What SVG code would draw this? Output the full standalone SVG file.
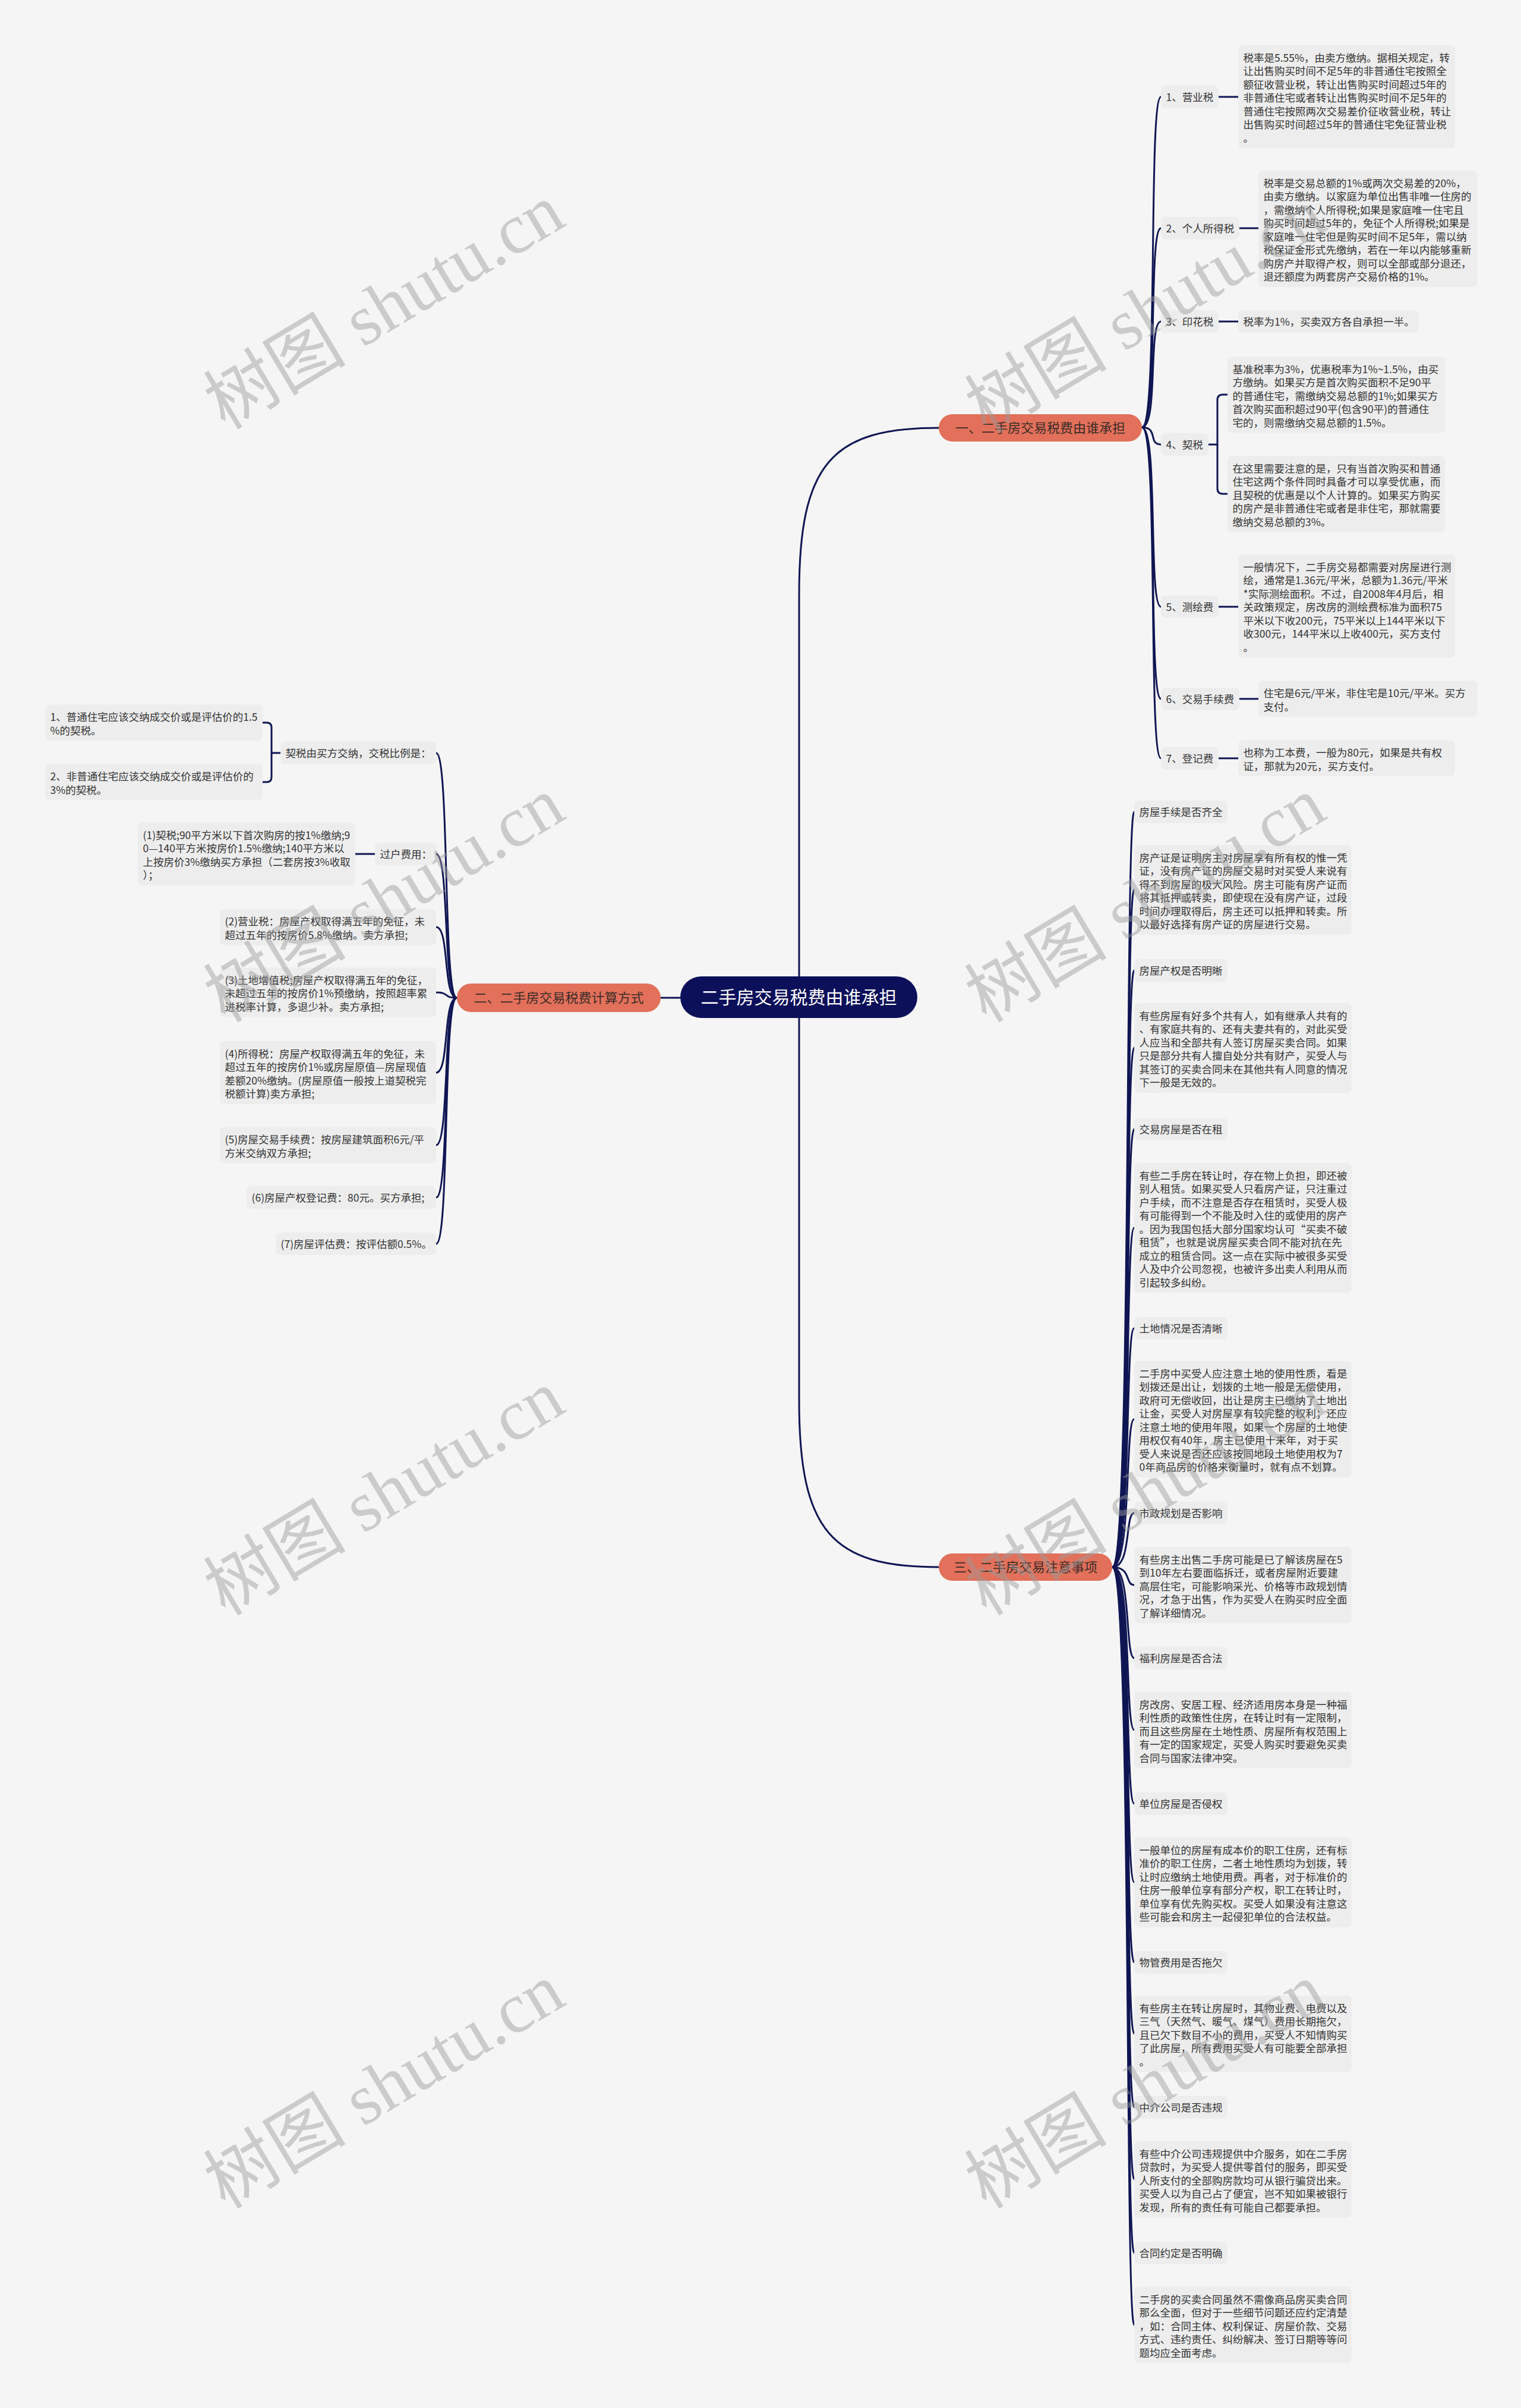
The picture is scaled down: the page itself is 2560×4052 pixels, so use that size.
<svg xmlns="http://www.w3.org/2000/svg" width="2560" height="4052" viewBox="0 0 2560 4052">
<style>
.t{font-family:"Noto Sans CJK SC","Liberation Sans",sans-serif;font-size:17.5px;fill:#333333;}
.bx{fill:#ededed;}
.ln{fill:none;stroke:#0f1653;stroke-width:3;stroke-linecap:round;}
.br{fill:#e2705a;}
.bt{font-family:"Noto Sans CJK SC","Liberation Sans",sans-serif;font-size:22px;fill:#3a2c28;text-anchor:middle;}
.wm{font-size:120px;fill:#9a9a9a;opacity:0.45;text-anchor:middle;}
</style>
<rect x="0" y="0" width="2560" height="4052" fill="#f5f5f5"/>

<g id="connectors">
<path class="ln" d="M1345 1643 L1345 1000 C1345 780 1400 720 1580 720"/>
<path class="ln" d="M1345 1713 L1345 2357 C1345 2577 1400 2637 1580 2637"/>
<path class="ln" d="M1145 1679 L1112 1679"/>
<path class="ln" d="M1922 719 C1950 719 1932 163 1954 163"/>
<path class="ln" d="M1922 719 C1950 719 1932 384 1954 384"/>
<path class="ln" d="M1922 719 C1950 719 1932 541 1954 541"/>
<path class="ln" d="M1922 719 C1950 719 1932 748 1954 748"/>
<path class="ln" d="M1922 719 C1950 719 1932 1021 1954 1021"/>
<path class="ln" d="M1922 719 C1950 719 1932 1176 1954 1176"/>
<path class="ln" d="M1922 719 C1950 719 1932 1276 1954 1276"/>
<path class="ln" d="M2051 163 H2084"/>
<path class="ln" d="M2086 384 H2118"/>
<path class="ln" d="M2051 541 H2084"/>
<path class="ln" d="M2034 748 H2049"/>
<path class="ln" d="M2066 664 H2058 Q2049 664 2049 673 V822 Q2049 831 2058 831 H2066"/>
<path class="ln" d="M2051 1021 H2084"/>
<path class="ln" d="M2086 1176 H2118"/>
<path class="ln" d="M2051 1276 H2084"/>
<path class="ln" d="M769 1679 C745 1679 757 1267 734 1267"/>
<path class="ln" d="M769 1679 C745 1679 757 1437 734 1437"/>
<path class="ln" d="M769 1679 C745 1679 757 1560 734 1560"/>
<path class="ln" d="M769 1679 C745 1679 757 1670 734 1670"/>
<path class="ln" d="M769 1679 C745 1679 757 1805 734 1805"/>
<path class="ln" d="M769 1679 C745 1679 757 1927 734 1927"/>
<path class="ln" d="M769 1679 C745 1679 757 2015 734 2015"/>
<path class="ln" d="M769 1679 C745 1679 757 2093 734 2093"/>
<path class="ln" d="M472 1267 H457"/>
<path class="ln" d="M442 1216 H449 Q457 1216 457 1224 V1308 Q457 1316 449 1316 H442"/>
<path class="ln" d="M631 1437 H598"/>
<path class="ln" d="M1872 2637 C1905 2637 1893 1366 1909 1366"/>
<path class="ln" d="M1872 2637 C1905 2637 1893 1497 1909 1497"/>
<path class="ln" d="M1872 2637 C1905 2637 1893 1633 1909 1633"/>
<path class="ln" d="M1872 2637 C1905 2637 1893 1763 1909 1763"/>
<path class="ln" d="M1872 2637 C1905 2637 1893 1900 1909 1900"/>
<path class="ln" d="M1872 2637 C1905 2637 1893 2066 1909 2066"/>
<path class="ln" d="M1872 2637 C1905 2637 1893 2235 1909 2235"/>
<path class="ln" d="M1872 2637 C1905 2637 1893 2388 1909 2388"/>
<path class="ln" d="M1872 2637 C1905 2637 1893 2546 1909 2546"/>
<path class="ln" d="M1872 2637 C1905 2637 1893 2667 1909 2667"/>
<path class="ln" d="M1872 2637 C1905 2637 1893 2790 1909 2790"/>
<path class="ln" d="M1872 2637 C1905 2637 1893 2911 1909 2911"/>
<path class="ln" d="M1872 2637 C1905 2637 1893 3035 1909 3035"/>
<path class="ln" d="M1872 2637 C1905 2637 1893 3167 1909 3167"/>
<path class="ln" d="M1872 2637 C1905 2637 1893 3302 1909 3302"/>
<path class="ln" d="M1872 2637 C1905 2637 1893 3422 1909 3422"/>
<path class="ln" d="M1872 2637 C1905 2637 1893 3546 1909 3546"/>
<path class="ln" d="M1872 2637 C1905 2637 1893 3667 1909 3667"/>
<path class="ln" d="M1872 2637 C1905 2637 1893 3791 1909 3791"/>
<path class="ln" d="M1872 2637 C1905 2637 1893 3912 1909 3912"/>
</g>

<g id="root">
<rect x="1145" y="1643" width="399" height="70" rx="35" fill="#0c105a"/>
<text x="1344.5" y="1689" font-family="Noto Sans CJK SC, sans-serif" font-size="30" fill="#ffffff" text-anchor="middle">二手房交易税费由谁承担</text>
</g>

<g id="branch1">
<rect class="br" x="1580" y="697" width="342" height="46" rx="23"/>
<text class="bt" x="1751" y="728">一、二手房交易税费由谁承担</text>
</g>
<g id="branch2">
<rect class="br" x="769" y="1655" width="343" height="48" rx="24"/>
<text class="bt" x="940.5" y="1687">二、二手房交易税费计算方式</text>
</g>
<g id="branch3">
<rect class="br" x="1580" y="2614" width="292" height="46" rx="23"/>
<text class="bt" x="1726" y="2645">三、二手房交易注意事项</text>
</g>

<g id="b1-yingyeshui">
<rect class="bx" x="1954" y="144" width="97" height="38" rx="8"/>
<text class="t" x="1962.5" y="169.5">1、营业税</text>
</g>
<g id="b1-yingyeshui-text">
<rect class="bx" x="2084" y="76" width="365" height="173.5" rx="8"/>
<text class="t"><tspan x="2092.5" y="103.5">税率是5.55%，由卖方缴纳。据相关规定，转</tspan><tspan x="2092.5" y="126">让出售购买时间不足5年的非普通住宅按照全</tspan><tspan x="2092.5" y="148.5">额征收营业税，转让出售购买时间超过5年的</tspan><tspan x="2092.5" y="171">非普通住宅或者转让出售购买时间不足5年的</tspan><tspan x="2092.5" y="193.5">普通住宅按照两次交易差价征收营业税，转让</tspan><tspan x="2092.5" y="216">出售购买时间超过5年的普通住宅免征营业税</tspan><tspan x="2092.5" y="238.5">。</tspan></text>
</g>
<g id="b1-geshui">
<rect class="bx" x="1954" y="365" width="132" height="38" rx="8"/>
<text class="t" x="1962.5" y="390.5">2、个人所得税</text>
</g>
<g id="b1-geshui-text">
<rect class="bx" x="2118" y="287" width="368" height="196" rx="8"/>
<text class="t"><tspan x="2126.5" y="314.5">税率是交易总额的1%或两次交易差的20%，</tspan><tspan x="2126.5" y="337">由卖方缴纳。以家庭为单位出售非唯一住房的</tspan><tspan x="2126.5" y="359.5">，需缴纳个人所得税;如果是家庭唯一住宅且</tspan><tspan x="2126.5" y="382">购买时间超过5年的，免征个人所得税;如果是</tspan><tspan x="2126.5" y="404.5">家庭唯一住宅但是购买时间不足5年，需以纳</tspan><tspan x="2126.5" y="427">税保证金形式先缴纳，若在一年以内能够重新</tspan><tspan x="2126.5" y="449.5">购房产并取得产权，则可以全部或部分退还，</tspan><tspan x="2126.5" y="472">退还额度为两套房产交易价格的1%。</tspan></text>
</g>
<g id="b1-yinhua">
<rect class="bx" x="1954" y="522" width="97" height="38" rx="8"/>
<text class="t" x="1962.5" y="547.5">3、印花税</text>
</g>
<g id="b1-yinhua-text">
<rect class="bx" x="2084" y="522" width="304" height="38" rx="8"/>
<text class="t" x="2092.5" y="547.5">税率为1%，买卖双方各自承担一半。</text>
</g>
<g id="b1-qishui">
<rect class="bx" x="1954" y="729" width="80" height="38" rx="8"/>
<text class="t" x="1962.5" y="754.5">4、契税</text>
</g>
<g id="b1-qishui-text1">
<rect class="bx" x="2066" y="600" width="366" height="128.5" rx="8"/>
<text class="t"><tspan x="2074.5" y="627.5">基准税率为3%，优惠税率为1%~1.5%，由买</tspan><tspan x="2074.5" y="650">方缴纳。如果买方是首次购买面积不足90平</tspan><tspan x="2074.5" y="672.5">的普通住宅，需缴纳交易总额的1%;如果买方</tspan><tspan x="2074.5" y="695">首次购买面积超过90平(包含90平)的普通住</tspan><tspan x="2074.5" y="717.5">宅的，则需缴纳交易总额的1.5%。</tspan></text>
</g>
<g id="b1-qishui-text2">
<rect class="bx" x="2066" y="767" width="366" height="128.5" rx="8"/>
<text class="t"><tspan x="2074.5" y="794.5">在这里需要注意的是，只有当首次购买和普通</tspan><tspan x="2074.5" y="817">住宅这两个条件同时具备才可以享受优惠，而</tspan><tspan x="2074.5" y="839.5">且契税的优惠是以个人计算的。如果买方购买</tspan><tspan x="2074.5" y="862">的房产是非普通住宅或者是非住宅，那就需要</tspan><tspan x="2074.5" y="884.5">缴纳交易总额的3%。</tspan></text>
</g>
<g id="b1-cehui">
<rect class="bx" x="1954" y="1002" width="97" height="38" rx="8"/>
<text class="t" x="1962.5" y="1027.5">5、测绘费</text>
</g>
<g id="b1-cehui-text">
<rect class="bx" x="2084" y="933" width="365" height="173.5" rx="8"/>
<text class="t"><tspan x="2092.5" y="960.5">一般情况下，二手房交易都需要对房屋进行测</tspan><tspan x="2092.5" y="983">绘，通常是1.36元/平米，总额为1.36元/平米</tspan><tspan x="2092.5" y="1005.5">*实际测绘面积。不过，自2008年4月后，相</tspan><tspan x="2092.5" y="1028">关政策规定，房改房的测绘费标准为面积75</tspan><tspan x="2092.5" y="1050.5">平米以下收200元，75平米以上144平米以下</tspan><tspan x="2092.5" y="1073">收300元，144平米以上收400元，买方支付</tspan><tspan x="2092.5" y="1095.5">。</tspan></text>
</g>
<g id="b1-shouxu">
<rect class="bx" x="1954" y="1157" width="132" height="38" rx="8"/>
<text class="t" x="1962.5" y="1182.5">6、交易手续费</text>
</g>
<g id="b1-shouxu-text">
<rect class="bx" x="2118" y="1145.5" width="368" height="61" rx="8"/>
<text class="t"><tspan x="2126.5" y="1173">住宅是6元/平米，非住宅是10元/平米。买方</tspan><tspan x="2126.5" y="1195.5">支付。</tspan></text>
</g>
<g id="b1-dengji">
<rect class="bx" x="1954" y="1257" width="97" height="38" rx="8"/>
<text class="t" x="1962.5" y="1282.5">7、登记费</text>
</g>
<g id="b1-dengji-text">
<rect class="bx" x="2084" y="1245.5" width="365" height="61" rx="8"/>
<text class="t"><tspan x="2092.5" y="1273">也称为工本费，一般为80元，如果是共有权</tspan><tspan x="2092.5" y="1295.5">证，那就为20元，买方支付。</tspan></text>
</g>

<g id="b2-qishui">
<rect class="bx" x="472" y="1248" width="262" height="38" rx="8"/>
<text class="t" x="480.5" y="1273.5">契税由买方交纳，交税比例是：</text>
</g>
<g id="b2-qishui-1">
<rect class="bx" x="76" y="1185.5" width="366" height="61" rx="8"/>
<text class="t"><tspan x="84.5" y="1213">1、普通住宅应该交纳成交价或是评估价的1.5</tspan><tspan x="84.5" y="1235.5">%的契税。</tspan></text>
</g>
<g id="b2-qishui-2">
<rect class="bx" x="76" y="1285.5" width="366" height="61" rx="8"/>
<text class="t"><tspan x="84.5" y="1313">2、非普通住宅应该交纳成交价或是评估价的</tspan><tspan x="84.5" y="1335.5">3%的契税。</tspan></text>
</g>
<g id="b2-guohu">
<rect class="bx" x="631" y="1418" width="103" height="38" rx="8"/>
<text class="t" x="639.5" y="1443.5">过户费用：</text>
</g>
<g id="b2-guohu-1">
<rect class="bx" x="232" y="1384" width="366" height="106" rx="8"/>
<text class="t"><tspan x="240.5" y="1411.5">(1)契税;90平方米以下首次购房的按1%缴纳;9</tspan><tspan x="240.5" y="1434">0—140平方米按房价1.5%缴纳;140平方米以</tspan><tspan x="240.5" y="1456.5">上按房价3%缴纳买方承担（二套房按3%收取</tspan><tspan x="240.5" y="1479">）；</tspan></text>
</g>
<g id="b2-item2">
<rect class="bx" x="370" y="1529.5" width="364" height="61" rx="8"/>
<text class="t"><tspan x="378.5" y="1557">(2)营业税：房屋产权取得满五年的免征，未</tspan><tspan x="378.5" y="1579.5">超过五年的按房价5.8%缴纳。卖方承担;</tspan></text>
</g>
<g id="b2-item3">
<rect class="bx" x="370" y="1628" width="364" height="83.5" rx="8"/>
<text class="t"><tspan x="378.5" y="1655.5">(3)土地增值税;房屋产权取得满五年的免征，</tspan><tspan x="378.5" y="1678">未超过五年的按房价1%预缴纳，按照超率累</tspan><tspan x="378.5" y="1700.5">进税率计算，多退少补。卖方承担;</tspan></text>
</g>
<g id="b2-item4">
<rect class="bx" x="370" y="1752" width="364" height="106" rx="8"/>
<text class="t"><tspan x="378.5" y="1779.5">(4)所得税：房屋产权取得满五年的免征，未</tspan><tspan x="378.5" y="1802">超过五年的按房价1%或房屋原值—房屋现值</tspan><tspan x="378.5" y="1824.5">差额20%缴纳。(房屋原值一般按上道契税完</tspan><tspan x="378.5" y="1847">税额计算)卖方承担;</tspan></text>
</g>
<g id="b2-item5">
<rect class="bx" x="370" y="1896.5" width="364" height="61" rx="8"/>
<text class="t"><tspan x="378.5" y="1924">(5)房屋交易手续费：按房屋建筑面积6元/平</tspan><tspan x="378.5" y="1946.5">方米交纳双方承担;</tspan></text>
</g>
<g id="b2-item6">
<rect class="bx" x="415" y="1996" width="319" height="38" rx="8"/>
<text class="t" x="423.5" y="2021.5">(6)房屋产权登记费：80元。买方承担;</text>
</g>
<g id="b2-item7">
<rect class="bx" x="464" y="2074" width="270" height="38" rx="8"/>
<text class="t" x="472.5" y="2099.5">(7)房屋评估费：按评估额0.5%。</text>
</g>

<g id="b3-shouxu">
<rect class="bx" x="1909" y="1347" width="157" height="38" rx="8"/>
<text class="t" x="1917.5" y="1372.5">房屋手续是否齐全</text>
</g>
<g id="b3-shouxu-text">
<rect class="bx" x="1909" y="1422" width="366" height="151" rx="8"/>
<text class="t"><tspan x="1917.5" y="1449.5">房产证是证明房主对房屋享有所有权的惟一凭</tspan><tspan x="1917.5" y="1472">证，没有房产证的房屋交易时对买受人来说有</tspan><tspan x="1917.5" y="1494.5">得不到房屋的极大风险。房主可能有房产证而</tspan><tspan x="1917.5" y="1517">将其抵押或转卖，即使现在没有房产证，过段</tspan><tspan x="1917.5" y="1539.5">时间办理取得后，房主还可以抵押和转卖。所</tspan><tspan x="1917.5" y="1562">以最好选择有房产证的房屋进行交易。</tspan></text>
</g>
<g id="b3-chanquan">
<rect class="bx" x="1909" y="1614" width="157" height="38" rx="8"/>
<text class="t" x="1917.5" y="1639.5">房屋产权是否明晰</text>
</g>
<g id="b3-chanquan-text">
<rect class="bx" x="1909" y="1688" width="366" height="151" rx="8"/>
<text class="t"><tspan x="1917.5" y="1715.5">有些房屋有好多个共有人，如有继承人共有的</tspan><tspan x="1917.5" y="1738">、有家庭共有的、还有夫妻共有的，对此买受</tspan><tspan x="1917.5" y="1760.5">人应当和全部共有人签订房屋买卖合同。如果</tspan><tspan x="1917.5" y="1783">只是部分共有人擅自处分共有财产，买受人与</tspan><tspan x="1917.5" y="1805.5">其签订的买卖合同未在其他共有人同意的情况</tspan><tspan x="1917.5" y="1828">下一般是无效的。</tspan></text>
</g>
<g id="b3-zaizu">
<rect class="bx" x="1909" y="1881" width="157" height="38" rx="8"/>
<text class="t" x="1917.5" y="1906.5">交易房屋是否在租</text>
</g>
<g id="b3-zaizu-text">
<rect class="bx" x="1909" y="1957" width="366" height="218.5" rx="8"/>
<text class="t"><tspan x="1917.5" y="1984.5">有些二手房在转让时，存在物上负担，即还被</tspan><tspan x="1917.5" y="2007">别人租赁。如果买受人只看房产证，只注重过</tspan><tspan x="1917.5" y="2029.5">户手续，而不注意是否存在租赁时，买受人极</tspan><tspan x="1917.5" y="2052">有可能得到一个不能及时入住的或使用的房产</tspan><tspan x="1917.5" y="2074.5">。因为我国包括大部分国家均认可“买卖不破</tspan><tspan x="1917.5" y="2097">租赁”，也就是说房屋买卖合同不能对抗在先</tspan><tspan x="1917.5" y="2119.5">成立的租赁合同。这一点在实际中被很多买受</tspan><tspan x="1917.5" y="2142">人及中介公司忽视，也被许多出卖人利用从而</tspan><tspan x="1917.5" y="2164.5">引起较多纠纷。</tspan></text>
</g>
<g id="b3-tudi">
<rect class="bx" x="1909" y="2216" width="157" height="38" rx="8"/>
<text class="t" x="1917.5" y="2241.5">土地情况是否清晰</text>
</g>
<g id="b3-tudi-text">
<rect class="bx" x="1909" y="2290" width="366" height="196" rx="8"/>
<text class="t"><tspan x="1917.5" y="2317.5">二手房中买受人应注意土地的使用性质，看是</tspan><tspan x="1917.5" y="2340">划拨还是出让，划拨的土地一般是无偿使用，</tspan><tspan x="1917.5" y="2362.5">政府可无偿收回，出让是房主已缴纳了土地出</tspan><tspan x="1917.5" y="2385">让金，买受人对房屋享有较完整的权利；还应</tspan><tspan x="1917.5" y="2407.5">注意土地的使用年限，如果一个房屋的土地使</tspan><tspan x="1917.5" y="2430">用权仅有40年，房主已使用十来年，对于买</tspan><tspan x="1917.5" y="2452.5">受人来说是否还应该按同地段土地使用权为7</tspan><tspan x="1917.5" y="2475">0年商品房的价格来衡量时，就有点不划算。</tspan></text>
</g>
<g id="b3-shizheng">
<rect class="bx" x="1909" y="2527" width="157" height="38" rx="8"/>
<text class="t" x="1917.5" y="2552.5">市政规划是否影响</text>
</g>
<g id="b3-shizheng-text">
<rect class="bx" x="1909" y="2603" width="366" height="128.5" rx="8"/>
<text class="t"><tspan x="1917.5" y="2630.5">有些房主出售二手房可能是已了解该房屋在5</tspan><tspan x="1917.5" y="2653">到10年左右要面临拆迁，或者房屋附近要建</tspan><tspan x="1917.5" y="2675.5">高层住宅，可能影响采光、价格等市政规划情</tspan><tspan x="1917.5" y="2698">况，才急于出售，作为买受人在购买时应全面</tspan><tspan x="1917.5" y="2720.5">了解详细情况。</tspan></text>
</g>
<g id="b3-fuli">
<rect class="bx" x="1909" y="2771" width="157" height="38" rx="8"/>
<text class="t" x="1917.5" y="2796.5">福利房屋是否合法</text>
</g>
<g id="b3-fuli-text">
<rect class="bx" x="1909" y="2847" width="366" height="128.5" rx="8"/>
<text class="t"><tspan x="1917.5" y="2874.5">房改房、安居工程、经济适用房本身是一种福</tspan><tspan x="1917.5" y="2897">利性质的政策性住房，在转让时有一定限制，</tspan><tspan x="1917.5" y="2919.5">而且这些房屋在土地性质、房屋所有权范围上</tspan><tspan x="1917.5" y="2942">有一定的国家规定，买受人购买时要避免买卖</tspan><tspan x="1917.5" y="2964.5">合同与国家法律冲突。</tspan></text>
</g>
<g id="b3-danwei">
<rect class="bx" x="1909" y="3016" width="157" height="38" rx="8"/>
<text class="t" x="1917.5" y="3041.5">单位房屋是否侵权</text>
</g>
<g id="b3-danwei-text">
<rect class="bx" x="1909" y="3092" width="366" height="151" rx="8"/>
<text class="t"><tspan x="1917.5" y="3119.5">一般单位的房屋有成本价的职工住房，还有标</tspan><tspan x="1917.5" y="3142">准价的职工住房，二者土地性质均为划拨，转</tspan><tspan x="1917.5" y="3164.5">让时应缴纳土地使用费。再者，对于标准价的</tspan><tspan x="1917.5" y="3187">住房一般单位享有部分产权，职工在转让时，</tspan><tspan x="1917.5" y="3209.5">单位享有优先购买权。买受人如果没有注意这</tspan><tspan x="1917.5" y="3232">些可能会和房主一起侵犯单位的合法权益。</tspan></text>
</g>
<g id="b3-wuguan">
<rect class="bx" x="1909" y="3283" width="157" height="38" rx="8"/>
<text class="t" x="1917.5" y="3308.5">物管费用是否拖欠</text>
</g>
<g id="b3-wuguan-text">
<rect class="bx" x="1909" y="3358" width="366" height="128.5" rx="8"/>
<text class="t"><tspan x="1917.5" y="3385.5">有些房主在转让房屋时，其物业费、电费以及</tspan><tspan x="1917.5" y="3408">三气（天然气、暖气、煤气）费用长期拖欠，</tspan><tspan x="1917.5" y="3430.5">且已欠下数目不小的费用，买受人不知情购买</tspan><tspan x="1917.5" y="3453">了此房屋，所有费用买受人有可能要全部承担</tspan><tspan x="1917.5" y="3475.5">。</tspan></text>
</g>
<g id="b3-zhongjie">
<rect class="bx" x="1909" y="3527" width="157" height="38" rx="8"/>
<text class="t" x="1917.5" y="3552.5">中介公司是否违规</text>
</g>
<g id="b3-zhongjie-text">
<rect class="bx" x="1909" y="3603" width="366" height="128.5" rx="8"/>
<text class="t"><tspan x="1917.5" y="3630.5">有些中介公司违规提供中介服务，如在二手房</tspan><tspan x="1917.5" y="3653">贷款时，为买受人提供零首付的服务，即买受</tspan><tspan x="1917.5" y="3675.5">人所支付的全部购房款均可从银行骗贷出来。</tspan><tspan x="1917.5" y="3698">买受人以为自己占了便宜，岂不知如果被银行</tspan><tspan x="1917.5" y="3720.5">发现，所有的责任有可能自己都要承担。</tspan></text>
</g>
<g id="b3-hetong">
<rect class="bx" x="1909" y="3772" width="157" height="38" rx="8"/>
<text class="t" x="1917.5" y="3797.5">合同约定是否明确</text>
</g>
<g id="b3-hetong-text">
<rect class="bx" x="1909" y="3848" width="366" height="128.5" rx="8"/>
<text class="t"><tspan x="1917.5" y="3875.5">二手房的买卖合同虽然不需像商品房买卖合同</tspan><tspan x="1917.5" y="3898">那么全面，但对于一些细节问题还应约定清楚</tspan><tspan x="1917.5" y="3920.5">，如：合同主体、权利保证、房屋价款、交易</tspan><tspan x="1917.5" y="3943">方式、违约责任、纠纷解决、签订日期等等问</tspan><tspan x="1917.5" y="3965.5">题均应全面考虑。</tspan></text>
</g>

<g id="watermarks">
<text class="wm" x="646" y="557" transform="rotate(-31 646 515)"><tspan font-family="Noto Sans CJK SC, sans-serif">树图</tspan><tspan font-family="Liberation Serif, serif"> shutu.cn</tspan></text>
<text class="wm" x="1927" y="564" transform="rotate(-31 1927 522)"><tspan font-family="Noto Sans CJK SC, sans-serif">树图</tspan><tspan font-family="Liberation Serif, serif"> shutu.cn</tspan></text>
<text class="wm" x="646" y="1555" transform="rotate(-31 646 1513)"><tspan font-family="Noto Sans CJK SC, sans-serif">树图</tspan><tspan font-family="Liberation Serif, serif"> shutu.cn</tspan></text>
<text class="wm" x="1927" y="1555" transform="rotate(-31 1927 1513)"><tspan font-family="Noto Sans CJK SC, sans-serif">树图</tspan><tspan font-family="Liberation Serif, serif"> shutu.cn</tspan></text>
<text class="wm" x="646" y="2553" transform="rotate(-31 646 2511)"><tspan font-family="Noto Sans CJK SC, sans-serif">树图</tspan><tspan font-family="Liberation Serif, serif"> shutu.cn</tspan></text>
<text class="wm" x="1927" y="2553" transform="rotate(-31 1927 2511)"><tspan font-family="Noto Sans CJK SC, sans-serif">树图</tspan><tspan font-family="Liberation Serif, serif"> shutu.cn</tspan></text>
<text class="wm" x="646" y="3551" transform="rotate(-31 646 3509)"><tspan font-family="Noto Sans CJK SC, sans-serif">树图</tspan><tspan font-family="Liberation Serif, serif"> shutu.cn</tspan></text>
<text class="wm" x="1927" y="3551" transform="rotate(-31 1927 3509)"><tspan font-family="Noto Sans CJK SC, sans-serif">树图</tspan><tspan font-family="Liberation Serif, serif"> shutu.cn</tspan></text>
</g>
</svg>
